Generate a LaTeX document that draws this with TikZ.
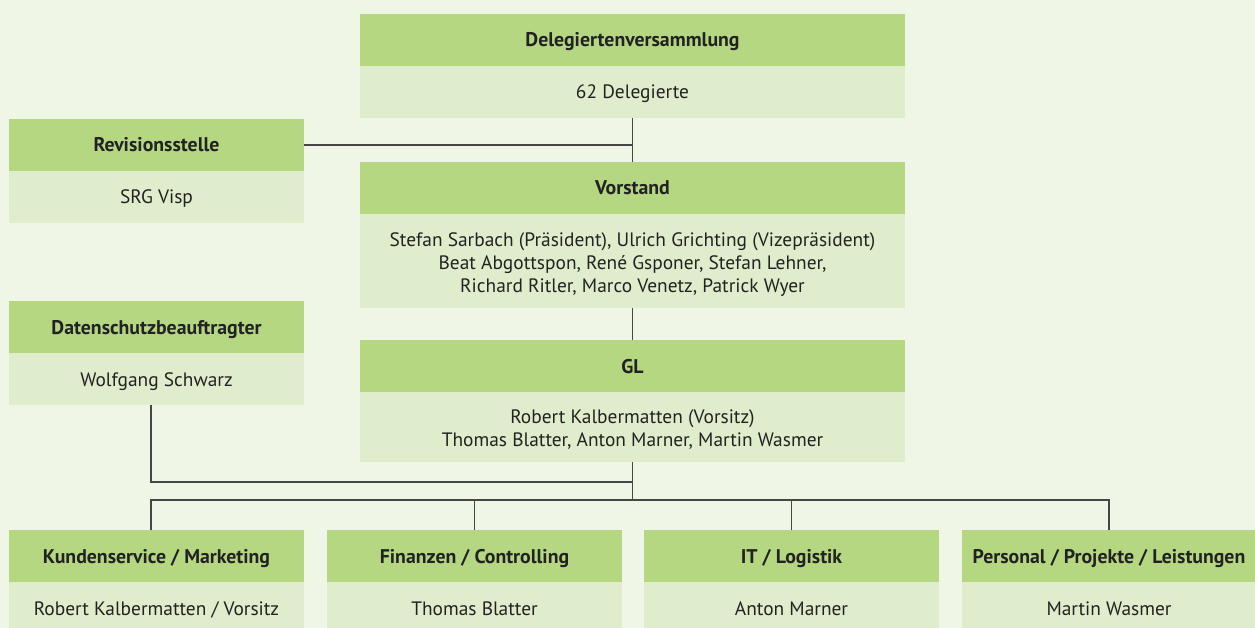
\documentclass[tikz,border=0pt]{standalone}
\usepackage{fontspec}
\setmainfont{PT Sans}
\definecolor{bg}{RGB}{240,246,230}
\definecolor{hdg}{RGB}{181,215,130}
\definecolor{bdg}{RGB}{224,237,204}
\definecolor{txt}{RGB}{34,34,34}
\definecolor{ln}{RGB}{70,70,70}
\newcommand\sTop{\rule{0pt}{21pt}}
\newcommand\sBot{\rule[-7pt]{0pt}{7pt}}
\tikzset{
  hd/.style={fill=hdg, minimum width=#1, minimum height=52pt, anchor=north west, inner sep=0pt, outer sep=0pt, font=\fontsize{19.8}{22}\selectfont\bfseries, text=txt, execute at begin node=\sTop, execute at end node=\sBot},
  bd/.style={fill=bdg, minimum width=#1, anchor=north, inner sep=0pt, outer sep=0pt, font=\fontsize{19.4}{23}\selectfont, text=txt, align=center, execute at begin node=\sTop, execute at end node=\sBot},
  con/.style={draw=ln, line width=1.5pt}
}
\begin{document}
\begin{tikzpicture}[x=1pt,y=-1pt]
\fill[bg] (0,0) rectangle (1255,628);
\useasboundingbox (0,0) rectangle (1255,628);
% top
\node[hd=545pt] (del-h) at (360,14) {Delegiertenversammlung};
\node[bd=545pt, minimum height=52pt] (del-b) at (del-h.south) {62 Delegierte};
\node[hd=295pt] (rev-h) at (9,119) {Revisionsstelle};
\node[bd=295pt, minimum height=52pt] (rev-b) at (rev-h.south) {SRG Visp};
\node[hd=545pt] (vor-h) at (360,162) {Vorstand};
\node[bd=545pt, minimum height=94pt] (vor-b) at (vor-h.south) {\rule{0pt}{23.5pt}Stefan Sarbach (Präsident), Ulrich Grichting (Vizepräsident)\\Beat Abgottspon, René Gsponer, Stefan Lehner,\\Richard Ritler, Marco Venetz, Patrick Wyer};
\node[hd=295pt] (dat-h) at (9,301) {Datenschutzbeauftragter};
\node[bd=295pt, minimum height=52pt] (dat-b) at (dat-h.south) {Wolfgang Schwarz};
\node[hd=545pt] (gl-h) at (360,340) {GL};
\node[bd=545pt, minimum height=70pt] (gl-b) at (gl-h.south) {\rule{0pt}{22.5pt}Robert Kalbermatten (Vorsitz)\\Thomas Blatter, Anton Marner, Martin Wasmer};
% bottom
\node[hd=295pt] (ks-h) at (9,530) {Kundenservice / Marketing};
\node[bd=295pt, minimum height=52pt] (ks-b) at (ks-h.south) {Robert Kalbermatten / Vorsitz};
\node[hd=295pt] (fi-h) at (327,530) {Finanzen / Controlling};
\node[bd=295pt, minimum height=52pt] (fi-b) at (fi-h.south) {Thomas Blatter};
\node[hd=295pt] (it-h) at (644,530) {IT / Logistik};
\node[bd=295pt, minimum height=52pt] (it-b) at (it-h.south) {Anton Marner};
\node[hd=294pt] (pp-h) at (962,530) {Personal / Projekte / Leistungen};
\node[bd=294pt, minimum height=52pt] (pp-b) at (pp-h.south) {Martin Wasmer};
% connectors
\coordinate (bus) at (632.5,500);
\coordinate (dj) at (632.5,482);
\coordinate (ksn) at ([xshift=-5.5pt]ks-h.north);
\coordinate (datn) at (ksn |- dat-b.south);
\draw[con] (del-b.south) -- (vor-h.north);
\draw[con] (rev-h.east) -- (rev-h.east -| del-b.south);
\draw[con] (vor-b.south) -- (gl-h.north);
\draw[con] (gl-b.south) -- (bus);
\draw[con] (datn) |- (dj);
\draw[con] (ksn) -- (ksn |- bus) -- (pp-h.north |- bus) -- (pp-h.north);
\draw[con] (fi-h.north) -- (fi-h.north |- bus);
\draw[con] (it-h.north) -- (it-h.north |- bus);
\end{tikzpicture}
\end{document}
